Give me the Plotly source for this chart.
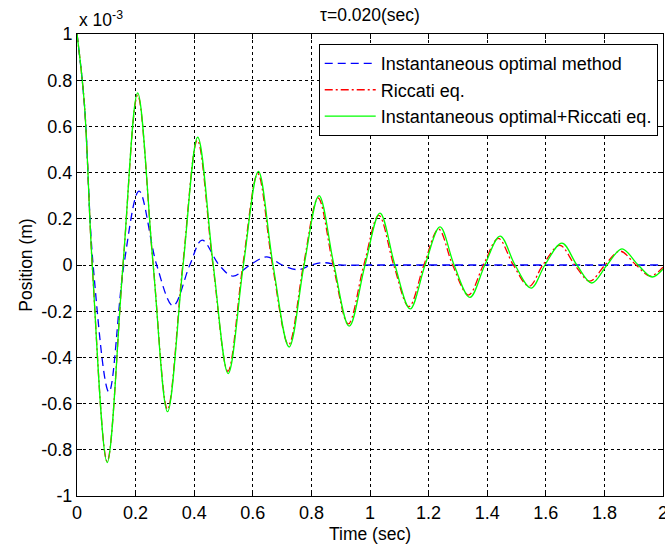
import plotly.graph_objects as go

# Values in units of 1e-3 m (axis shows "x 10^-3")
t_inst = [0, 0.025, 0.055, 0.109, 0.16, 0.212, 0.272, 0.328, 0.385, 0.427, 0.485, 0.532,
          0.59, 0.648, 0.70, 0.754, 0.80, 0.84, 0.9, 1.0, 1.5, 2.0]
y_inst = [1.0, 0.70, 0.0, -0.55, 0.0, 0.32, 0.0, -0.177, 0.0, 0.108, 0.0, -0.048,
          0.0, 0.035, 0.0, -0.02, 0.0, 0.01, 0.0, 0.0, 0.0, 0.0]

t_ric = [0, 0.025, 0.052, 0.103, 0.157, 0.207, 0.26, 0.309, 0.361, 0.411, 0.464, 0.515,
         0.566, 0.617, 0.667, 0.722, 0.773, 0.823, 0.874, 0.926, 0.979, 1.03, 1.081, 1.133,
         1.184, 1.234, 1.282, 1.336, 1.387, 1.438, 1.489, 1.543, 1.59, 1.648, 1.699, 1.75,
         1.802, 1.853, 1.908, 1.956, 2.0]
y_ric = [1.0, 0.70, 0.0, -0.85, 0.0, 0.735, 0.0, -0.625, 0.0, 0.54, 0.0, -0.46,
         0.0, 0.395, 0.0, -0.345, 0.0, 0.29, 0.0, -0.255, 0.0, 0.215, 0.0, -0.18,
         0.0, 0.155, 0.0, -0.13, 0.0, 0.115, 0.0, -0.092, 0.0, 0.085, 0.0, -0.07,
         0.0, 0.06, 0.0, -0.048, -0.01]

t_comb = [0, 0.025, 0.052, 0.103, 0.157, 0.207, 0.26, 0.309, 0.362, 0.412, 0.465, 0.516,
          0.568, 0.619, 0.669, 0.724, 0.775, 0.826, 0.877, 0.929, 0.983, 1.034, 1.085, 1.137,
          1.188, 1.239, 1.287, 1.341, 1.392, 1.444, 1.495, 1.550, 1.597, 1.655, 1.706, 1.757,
          1.809, 1.86, 1.915, 1.963, 2.0]
y_comb = [1.0, 0.70, 0.0, -0.855, 0.0, 0.745, 0.0, -0.635, 0.0, 0.553, 0.0, -0.47,
          0.0, 0.405, 0.0, -0.355, 0.0, 0.30, 0.0, -0.265, 0.0, 0.225, 0.0, -0.19,
          0.0, 0.165, 0.0, -0.14, 0.0, 0.125, 0.0, -0.10, 0.0, 0.095, 0.0, -0.078,
          0.0, 0.07, 0.0, -0.052, -0.017]

x_ticks = [0, 0.2, 0.4, 0.6, 0.8, 1, 1.2, 1.4, 1.6, 1.8, 2]
x_labels = ["0", "0.2", "0.4", "0.6", "0.8", "1", "1.2", "1.4", "1.6", "1.8", "2"]
y_ticks = [-1, -0.8, -0.6, -0.4, -0.2, 0, 0.2, 0.4, 0.6, 0.8, 1]
y_labels = ["-1", "-0.8", "-0.6", "-0.4", "-0.2", "0", "0.2", "0.4", "0.6", "0.8", "1"]

FONT = "Liberation Sans, Arial, sans-serif"
TXT = dict(family=FONT, size=17.5, color="black")

fig = go.Figure()
fig.add_trace(go.Scatter(x=t_inst, y=y_inst, mode="lines", name="Instantaneous optimal method",
                         line=dict(color="#0000FF", width=1.3, dash="8px,5px", shape="spline", smoothing=1.0)))
fig.add_trace(go.Scatter(x=t_ric, y=y_ric, mode="lines", name="Riccati eq.",
                         line=dict(color="#FF0000", width=1.3, dash="8px,3px,2px,3px", shape="spline", smoothing=1.0)))
fig.add_trace(go.Scatter(x=t_comb, y=y_comb, mode="lines", name="Instantaneous optimal+Riccati eq.",
                         line=dict(color="#00FF00", width=1.3, shape="spline", smoothing=1.0)))

axis_common = dict(showline=True, linecolor="black", linewidth=1, mirror="allticks",
                   ticks="inside", ticklen=5, tickcolor="black",
                   showgrid=True, gridcolor="black", gridwidth=1, griddash="dot",
                   zeroline=False, ticklabeloverflow="allow", automargin=False,
                   tickfont=dict(family=FONT, size=18, color="black"))

fig.update_xaxes(range=[0, 2], tickvals=x_ticks, ticktext=x_labels,
                 title=dict(text="Time (sec)", font=TXT, standoff=6),
                 **axis_common)
fig.update_yaxes(range=[-1, 1], tickvals=y_ticks, ticktext=y_labels,
                 title=dict(text="Position (m)", font=TXT, standoff=4),
                 **axis_common)

fig.update_layout(
    width=665, height=550,
    margin=dict(l=77, r=2, t=34, b=54),
    plot_bgcolor="white", paper_bgcolor="white",
    font=TXT,
    title=dict(text="\u03c4=0.020(sec)", x=370 / 665, xanchor="center",
               y=1 - 15 / 550, yanchor="middle", font=TXT),
    legend=dict(x=0.991, y=0.978, xanchor="right", yanchor="top",
                bgcolor="white", bordercolor="black", borderwidth=1, itemwidth=51,
                font=dict(family=FONT, size=18, color="black"), tracegroupgap=0),
    annotations=[dict(text="x 10<sup>-3</sup>", xref="paper", yref="paper", x=0, y=1.0,
                      xanchor="left", yanchor="bottom", showarrow=False, yshift=2,
                      font=TXT)],
    showlegend=True,
)

fig.write_html("out.html")
